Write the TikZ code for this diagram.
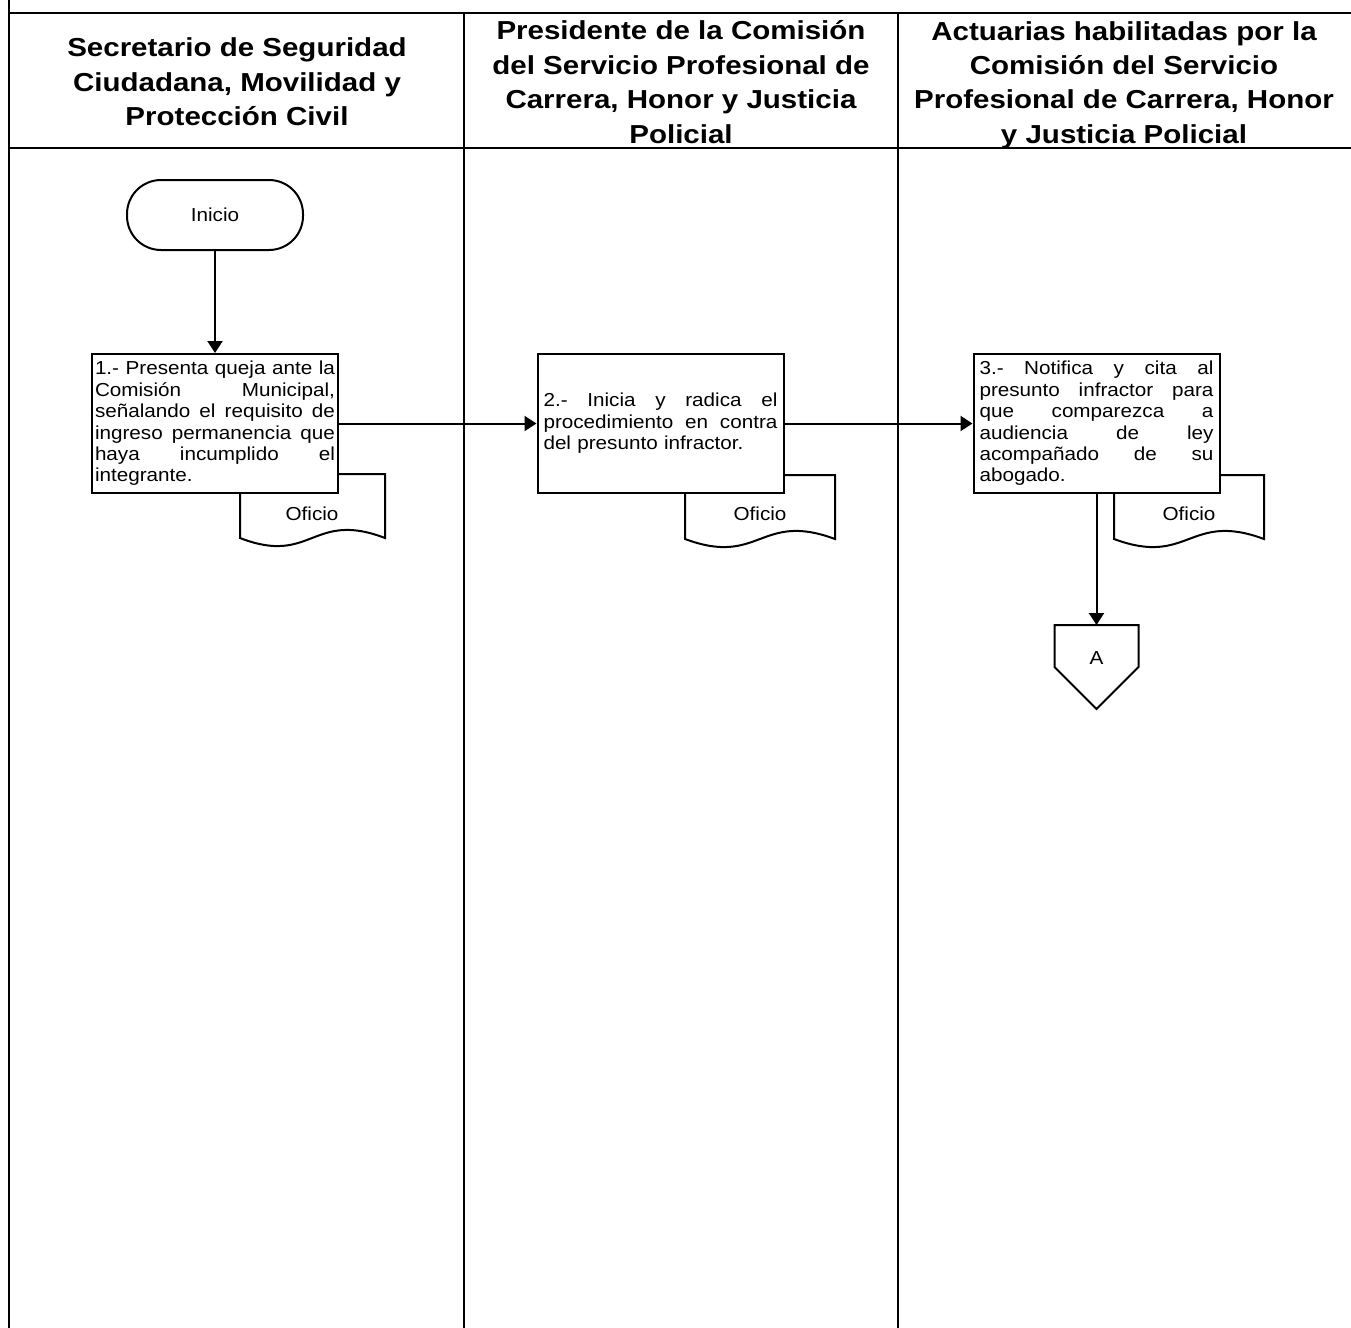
\documentclass[tikz,border=0pt]{standalone}
\usepackage{fontspec}
\setmainfont{Liberation Sans}
\newfontfamily\hdrfont[FakeStretch=1.135]{Liberation Sans}
\newfontfamily\boxfont[FakeStretch=1.1]{Liberation Sans}
\usetikzlibrary{arrows.meta,calc}
\newlength\jw
\newcommand\jline[1]{\noindent\hbox to \jw{\spaceskip=0.25em plus 1fil\xspaceskip=\spaceskip #1}}
\begin{document}
\begin{tikzpicture}[x=0.5pt,y=-0.5pt,
  frame/.style={line width=1.3pt},
  hdr/.style={align=center,font=\hdrfont\bfseries\fontsize{13}{17.2}\selectfont,inner sep=0pt},
  txt/.style={font=\boxfont\fontsize{9.4}{10.7}\selectfont},
  stepbox/.style={draw,line width=1pt,fill=white,minimum width=123pt,minimum height=69.5pt,inner sep=0pt,align=left,txt},
  term/.style={draw,line width=1pt,rounded corners=17pt,minimum width=88pt,minimum height=35pt,txt},
  doclbl/.style={txt,inner sep=0pt},
  docline/.style={draw,line width=1pt},
  arr/.style={line width=1pt,-{Triangle[length=6pt,width=7.5pt]}},
]
\useasboundingbox (0,0) rectangle (1351,1328);
% frame
\draw[frame] (9,0) -- (9,1328);
\draw[frame] (9,13) -- (1351,13);
\draw[frame] (9,148) -- (1351,148);
\draw[frame] (464,13) -- (464,1328);
\draw[frame] (898,13) -- (898,1328);
% headers
\node[hdr] (h1) at (237,82) {Secretario de Seguridad\\Ciudadana, Movilidad y\\Protección Civil};
\node[hdr] (h2) at (681,82) {Presidente de la Comisión\\del Servicio Profesional de\\Carrera, Honor y Justicia\\Policial};
\node[hdr] (h3) at (1124,85) {Actuarias habilitadas por la\\Comisión del Servicio\\Profesional de Carrera, Honor\\y Justicia Policial};
% start
\node[term] (inicio) at (215,215) {Inicio};
% documents
\node[doclbl] (d1) at (312,514) {Oficio};
\draw[docline] ($(d1)+(-72,-40)$) -- ($(d1)+(-72,24)$) .. controls ($(d1)+(0,52)$) and ($(d1)+(0,-4)$) .. ($(d1)+(73,24)$) -- ($(d1)+(73,-40)$) -- cycle;
\node[doclbl] (d2) at (760,514) {Oficio};
\draw[docline] ($(d2)+(-75,-39)$) -- ($(d2)+(-75,25)$) .. controls ($(d2)+(0,53)$) and ($(d2)+(0,-3)$) .. ($(d2)+(75,25)$) -- ($(d2)+(75,-39)$) -- cycle;
\node[doclbl] (d3) at (1189,514) {Oficio};
\draw[docline] ($(d3)+(-75,-39)$) -- ($(d3)+(-75,25)$) .. controls ($(d3)+(0,53)$) and ($(d3)+(0,-3)$) .. ($(d3)+(75,25)$) -- ($(d3)+(75,-39)$) -- cycle;
% process boxes
\setlength\jw{120pt}
\node[stepbox,text width=120pt] (box1) at (215,423.5) {\jline{1.- Presenta queja ante la}\\\jline{Comisión Municipal,}\\\jline{señalando el requisito de}\\\jline{ingreso permanencia que}\\\jline{haya incumplido el}\\integrante.};
\setlength\jw{117pt}
\node[stepbox,text width=117pt] (box2) at (660.5,423.5) {\jline{2.- Inicia y radica el}\\\jline{procedimiento en contra}\\del presunto infractor.};
\node[stepbox,text width=117pt] (box3) at (1096.5,423.5) {\jline{3.- Notifica y cita al}\\\jline{presunto infractor para}\\\jline{que comparezca a}\\\jline{audiencia de ley}\\\jline{acompañado de su}\\abogado.};
% off-page connector
\node[doclbl] (conA) at (1096.5,658) {A};
\draw[docline] ($(conA)+(-42,-33)$) -- ($(conA)+(42,-33)$) -- ($(conA)+(42,9)$) -- ($(conA)+(0,51)$) -- ($(conA)+(-42,9)$) -- cycle;
\coordinate (conAtop) at ($(conA)+(0,-33)$);
% connectors
\draw[arr] (inicio) -- (box1);
\draw[arr] (box1) -- (box2);
\draw[arr] (box2) -- (box3);
\draw[arr] (box3) -- (conAtop);
\end{tikzpicture}
\end{document}
